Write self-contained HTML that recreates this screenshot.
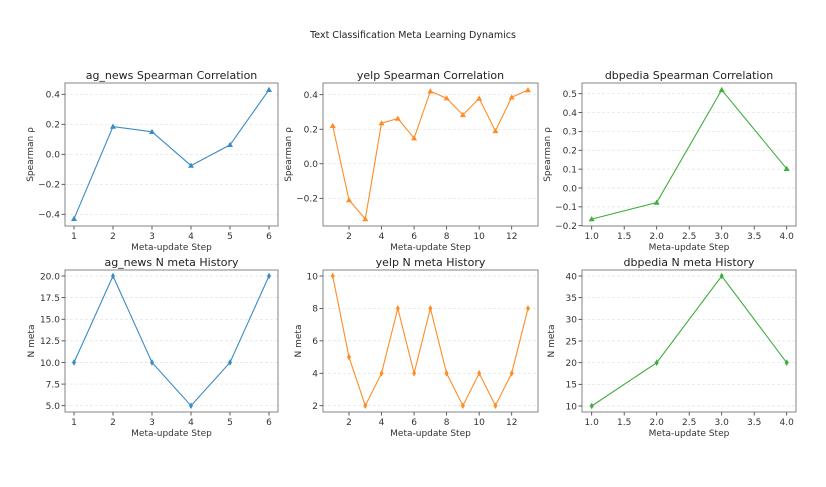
<!DOCTYPE html>
<html><head><meta charset="utf-8"><style>
body{margin:0;background:#fff;}
svg{display:block;font-family:"DejaVu Sans","Liberation Sans",sans-serif;}
</style></head><body>
<svg id="fig" width="826" height="487" viewBox="0 0 826 487">
<text x="413" y="38" text-anchor="middle" font-size="9.5" fill="#222">Text Classification Meta Learning Dynamics</text>
</svg>
<script>
const agCorr=[-0.43,0.185,0.15,-0.075,0.063,0.43];
const yelpCorr=[0.22,-0.21,-0.32,0.235,0.262,0.148,0.42,0.38,0.283,0.378,0.19,0.385,0.427];
const dbCorr=[-0.165,-0.077,0.52,0.102];
const agN=[10,20,10,5,10,20];
const yelpN=[10,5,2,4,8,4,8,4,2,4,2,4,8];
const dbN=[10,20,40,20];
const agX=[1,2,3,4,5,6];
const yelpX=[1,2,3,4,5,6,7,8,9,10,11,12,13];
const dbX=[1,2,3,4];
const agCorrTicks=[-0.4,-0.2,0.0,0.2,0.4];
const yelpCorrTicks=[-0.2,0.0,0.2,0.4];
const dbCorrTicks=[-0.2,-0.1,0.0,0.1,0.2,0.3,0.4,0.5];
const agNTicks=[5,7.5,10,12.5,15,17.5,20];
const yelpNTicks=[2,4,6,8,10];
const dbNTicks=[10,15,20,25,30,35,40];
const agXTicks=[1,2,3,4,5,6];
const yelpXTicks=[2,4,6,8,10,12];
const dbXTicks=[1,1.5,2,2.5,3,3.5,4];

const NS='http://www.w3.org/2000/svg';
const svg=document.getElementById('fig');
function mk(tag,attrs,parent){const e=document.createElementNS(NS,tag);for(const k in attrs)e.setAttribute(k,attrs[k]);(parent||svg).appendChild(e);return e;}
function lin(d0,d1,p0,p1){return v=>p0+(v-d0)*(p1-p0)/(d1-d0);}
const mn=s=>s.replace('-','\u2212');

const panels=[
 {id:'ag-corr',title:'ag_news Spearman Correlation',xs:agX,ys:agCorr,yt:agCorrTicks,xt:agXTicks,xf:v=>String(v),yf:v=>v.toFixed(1),box:[65,83,278,226],xm:[1,6,74,269],ym:[-0.4,0.4,214.3,94.3],c:'#3a8cc6',m:'tri',yl:'Spearman ρ',yo:32},
 {id:'yelp-corr',title:'yelp Spearman Correlation',xs:yelpX,ys:yelpCorr,yt:yelpCorrTicks,xt:yelpXTicks,xf:v=>String(v),yf:v=>v.toFixed(1),box:[323,83,538,226],xm:[2,12,349,511.7],ym:[-0.2,0.4,198.3,94.7],c:'#ff8c25',m:'tri',yl:'Spearman ρ',yo:32},
 {id:'dbpedia-corr',title:'dbpedia Spearman Correlation',xs:dbX,ys:dbCorr,yt:dbCorrTicks,xt:dbXTicks,xf:v=>v.toFixed(1),yf:v=>v.toFixed(1),box:[582,83,796,226],xm:[1,4,591.7,786.7],ym:[-0.2,0.5,225.7,93.7],c:'#3fad3f',m:'tri',yl:'Spearman ρ',yo:32},
 {id:'ag-n',title:'ag_news N meta History',xs:agX,ys:agN,yt:agNTicks,xt:agXTicks,xf:v=>String(v),yf:v=>v.toFixed(1),box:[65,270,278,412],xm:[1,6,74,269],ym:[5,20,405.7,276],c:'#3a8cc6',m:'dia',yl:'N meta',yo:31},
 {id:'yelp-n',title:'yelp N meta History',xs:yelpX,ys:yelpN,yt:yelpNTicks,xt:yelpXTicks,xf:v=>String(v),yf:v=>String(v),box:[323,270,538,412],xm:[2,12,349,511.7],ym:[2,10,405.7,276],c:'#ff8c25',m:'dia',yl:'N meta',yo:22},
 {id:'dbpedia-n',title:'dbpedia N meta History',xs:dbX,ys:dbN,yt:dbNTicks,xt:dbXTicks,xf:v=>v.toFixed(1),yf:v=>String(v),box:[582,270,796,412],xm:[1,4,591.7,786.7],ym:[10,40,406,276],c:'#3fad3f',m:'dia',yl:'N meta',yo:28}
];

panels.forEach(p=>{
 const g=mk('g',{});
 
 
 const [l,t,r,b]=p.box;
 const X=lin(...p.xm), Y=lin(...p.ym);
 p.yt.forEach(v=>{
  const y=Y(v);
  const gl=mk('line',{x1:l,x2:r,y1:y,y2:y,stroke:'#e2e2e2','stroke-width':0.7,'stroke-dasharray':'3,2'},g);
  
  
  mk('line',{x1:l-3.5,x2:l,y1:y,y2:y,stroke:'#333','stroke-width':0.8},g);
  const tx=mk('text',{x:l-5,y:y+3.3,'text-anchor':'end','font-size':9,fill:'#333'},g);
  tx.textContent=mn(p.yf(v));
  
  
 });
 p.xt.forEach(v=>{
  const x=X(v);
  mk('line',{x1:x,x2:x,y1:b,y2:b+3.5,stroke:'#333','stroke-width':0.8},g);
  const tx=mk('text',{x:x,y:b+13,'text-anchor':'middle','font-size':9,fill:'#333'},g);
  tx.textContent=p.xf(v);
  
  
 });
 const pts=p.xs.map((x,i)=>X(x).toFixed(1)+','+Y(p.ys[i]).toFixed(1)).join(' ');
 const pl=mk('polyline',{points:pts,fill:'none',stroke:p.c,'stroke-width':1.1},g);
 
 
 p.xs.forEach((xv,i)=>{
  const x=X(xv),y=Y(p.ys[i]);
  let d;
  if(p.m==='tri') d=`M${x},${y-3}L${x+3},${y+2.2}L${x-3},${y+2.2}Z`;
  else d=`M${x},${y-3.3}L${x+2},${y}L${x},${y+3.3}L${x-2},${y}Z`;
  const mkr=mk('path',{d:d,fill:p.c},g);
  
  
 });
 const fr=mk('rect',{x:l,y:t,width:r-l,height:b-t,fill:'none',stroke:'#666','stroke-width':0.8},g);
 
 
 const ti=mk('text',{x:(l+r)/2,y:t-4,'text-anchor':'middle','font-size':11,fill:'#222'},g);
 ti.textContent=p.title;
 
 
 const xl=mk('text',{x:(l+r)/2,y:b+24,'text-anchor':'middle','font-size':9,fill:'#333'},g);
 xl.textContent='Meta-update Step';
 
 
 const yx=l-p.yo;
 const yl=mk('text',{x:yx,y:(t+b)/2,'text-anchor':'middle','font-size':9,fill:'#333',transform:`rotate(-90 ${yx} ${(t+b)/2})`},g);
 yl.textContent=p.yl;
 
 
});
</script>
</body></html>
